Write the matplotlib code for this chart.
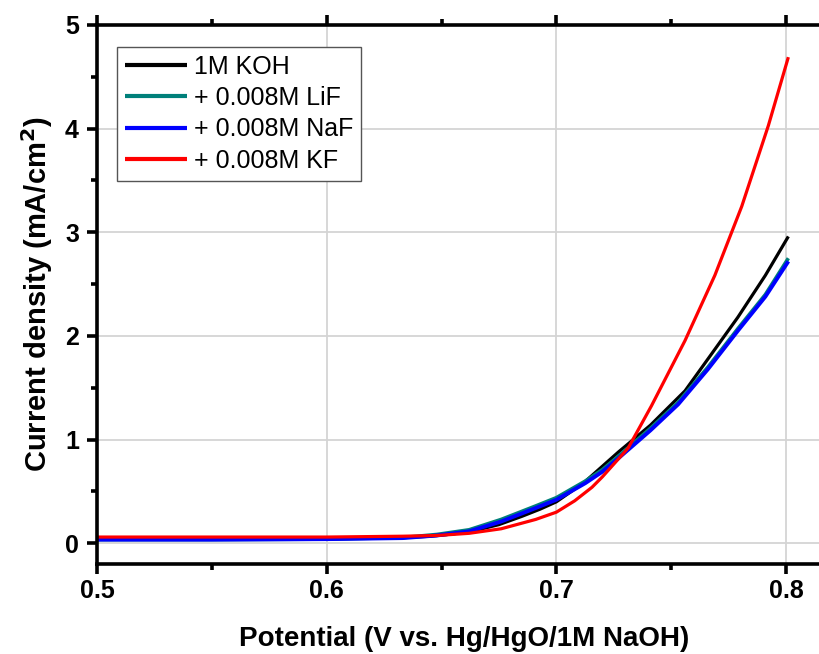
"""LSV curves of 1M KOH with fluoride additives."""
from __future__ import annotations

import matplotlib

matplotlib.use("Agg")
import matplotlib.pyplot as plt
from matplotlib.ticker import MultipleLocator


OUTPUT = "out.png"

KOH_X = [0.500, 0.550, 0.600, 0.630, 0.645, 0.655, 0.665, 0.675, 0.685,
         0.693, 0.700, 0.712, 0.727, 0.741, 0.756, 0.768, 0.779, 0.791,
         0.801]
KOH_Y = [0.040, 0.040, 0.045, 0.050, 0.068, 0.090, 0.125, 0.180, 0.260,
         0.330, 0.400, 0.585, 0.880, 1.140, 1.470, 1.840, 2.180, 2.585,
         2.960]

LIF_X = [0.500, 0.550, 0.600, 0.633, 0.648, 0.662, 0.676, 0.691, 0.700,
         0.7126, 0.720, 0.727, 0.741, 0.753, 0.766, 0.779, 0.791, 0.801]
LIF_Y = [0.035, 0.035, 0.040, 0.055, 0.085, 0.130, 0.230, 0.360, 0.440,
         0.600, 0.710, 0.840, 1.110, 1.360, 1.700, 2.070, 2.400, 2.750]

NAF_X = [0.500, 0.550, 0.600, 0.633, 0.648, 0.662, 0.676, 0.691, 0.700,
         0.7126, 0.720, 0.727, 0.741, 0.753, 0.766, 0.779, 0.791, 0.801]
NAF_Y = [0.035, 0.035, 0.040, 0.050, 0.075, 0.115, 0.210, 0.340, 0.420,
         0.580, 0.690, 0.820, 1.090, 1.340, 1.680, 2.050, 2.380, 2.720]

KF_X = [0.500, 0.550, 0.600, 0.633, 0.648, 0.662, 0.676, 0.691, 0.700,
        0.708, 0.7155, 0.720, 0.7313, 0.7414, 0.756, 0.769, 0.7807,
        0.7923, 0.801]
KF_Y = [0.060, 0.060, 0.060, 0.068, 0.075, 0.096, 0.140, 0.230, 0.300,
        0.410, 0.540, 0.640, 0.920, 1.326, 1.955, 2.585, 3.250, 4.030,
        4.690]

SERIES = [
    ("1M KOH", KOH_X, KOH_Y, "#000000", 2.3),
    ("+ 0.008M LiF", LIF_X, LIF_Y, "#00807a", 2.6),
    ("+ 0.008M NaF", NAF_X, NAF_Y, "#0000ff", 2.8),
    ("+ 0.008M KF", KF_X, KF_Y, "#ff0000", 2.3),
]


def main() -> None:
    plt.rcParams["font.family"] = ["Liberation Sans", "DejaVu Sans"]
    fig = plt.figure(figsize=(8.19, 6.54), dpi=100)
    ax = fig.add_axes([97 / 819, 90 / 654, 735 / 819, 539 / 654])

    for label, xs, ys, color, width in SERIES:
        ax.plot(xs, ys, color=color, lw=width, label=label,
                solid_capstyle="butt")

    ax.set_xlim(0.5, 0.82)
    ax.set_ylim(-0.2, 5)
    ax.xaxis.set_major_locator(MultipleLocator(0.1))
    ax.xaxis.set_minor_locator(MultipleLocator(0.05))
    ax.yaxis.set_major_locator(MultipleLocator(1))
    ax.yaxis.set_minor_locator(MultipleLocator(0.5))
    ax.grid(which="major", color="#d4d4d4", lw=1.3)
    ax.set_axisbelow(True)

    for spine in ax.spines.values():
        spine.set_linewidth(2.6)
    ax.tick_params(which="both", direction="out", top=True, right=True,
                   width=2.6)
    ax.tick_params(which="major", length=7)
    ax.tick_params(which="minor", length=4)
    ax.tick_params(axis="x", which="major", labelsize=18, pad=4)
    ax.tick_params(axis="y", which="major", labelsize=18, pad=6)
    for tick in ax.get_xticklabels() + ax.get_yticklabels():
        tick.set_fontweight("bold")

    ax.set_xlabel("Potential (V vs. Hg/HgO/1M NaOH)", fontsize=20,
                  fontweight="bold", labelpad=16)
    ax.set_ylabel("Current density (mA/cm$^\\mathbf{2}$)", fontsize=21,
                  fontweight="bold", labelpad=7)

    legend = ax.legend(
        loc="upper left",
        bbox_to_anchor=(20 / 735, 1 - 22 / 539),
        borderaxespad=0,
        fontsize=18,
        handlelength=2.5,
        handletextpad=0.3,
        labelspacing=0.3,
        borderpad=0.3,
        fancybox=False,
        framealpha=1,
    )
    legend.get_frame().set_edgecolor("#555555")
    legend.get_frame().set_linewidth(1.0)
    for line in legend.get_lines():
        line.set_linewidth(3.0)

    fig.savefig(OUTPUT, dpi=100)
    plt.close(fig)


if __name__ == "__main__":
    main()
